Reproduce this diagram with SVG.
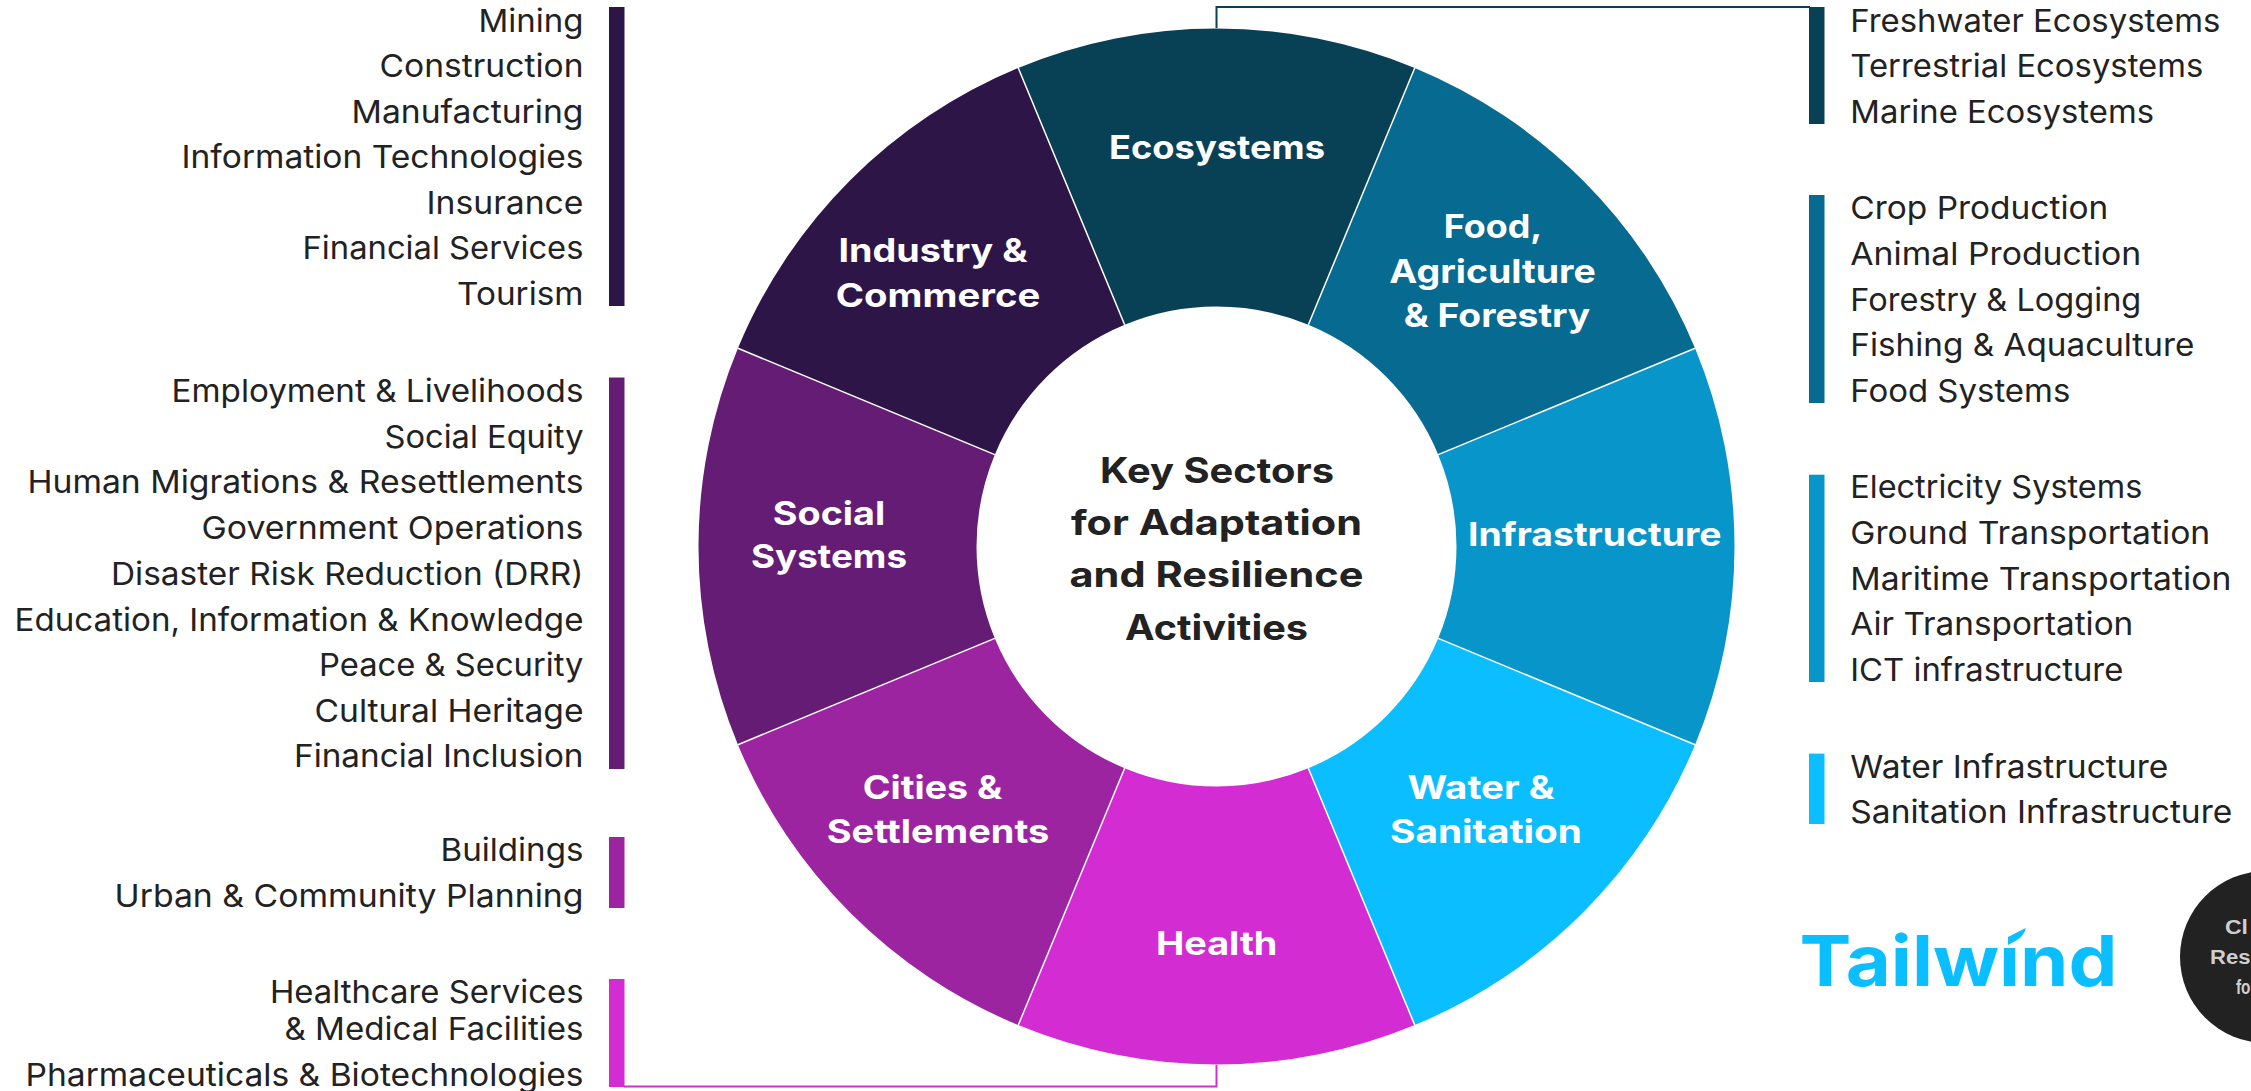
<svg xmlns="http://www.w3.org/2000/svg" width="2251" height="1091" viewBox="0 0 2251 1091">
<style>
text{font-family:"Inter","Noto Sans","Liberation Sans",sans-serif}
.item{font-size:31.5px;font-weight:400;fill:#222;}
.l{text-anchor:end}
.s{font-size:32.5px;font-weight:700;fill:#fff;text-anchor:middle}
.t{font-size:35px;font-weight:700;fill:#222;text-anchor:middle}
.c{font-family:"Liberation Sans",sans-serif;font-size:20px;font-weight:700;fill:#cfcfcf}
.div{stroke:#fff;stroke-width:1.500;fill:none}
.conn{fill:none;stroke-width:2}
</style>
<defs>
<clipPath id="logo-clip"><path d="M1790 915H2135V1005H1790ZM2000 925V948H2030V925Z" clip-rule="evenodd"/></clipPath>
</defs>
<rect width="2251" height="1091" fill="#fff"/>
<g id="connectors">
<path class="conn" stroke="#084156" d="M1216.5 28V7H1810"/>
<path class="conn" stroke="#D42CD3" d="M1216.5 1065V1086.500H624"/>
</g>
<g id="sector-ecosystems"><path fill="#084156" d="M1018.27 67.93A518 518 0 0 1 1414.73 67.93L1308.34 324.77A240 240 0 0 0 1124.66 324.77Z"/><text class="s" x="1217" y="158.600" textLength="216" lengthAdjust="spacingAndGlyphs">Ecosystems</text></g>
<g id="sector-food"><path fill="#066A91" d="M1414.73 67.93A518 518 0 0 1 1695.07 348.27L1438.23 454.66A240 240 0 0 0 1308.34 324.77Z"/><text class="s" x="1493" y="238" textLength="98.500" lengthAdjust="spacingAndGlyphs">Food,</text><text class="s" x="1492.600" y="282.500" textLength="206.500" lengthAdjust="spacingAndGlyphs">Agriculture</text><text class="s" x="1497" y="326.500" textLength="186.500" lengthAdjust="spacingAndGlyphs">&amp; Forestry</text></g>
<g id="sector-infrastructure"><path fill="#0895C9" d="M1695.07 348.27A518 518 0 0 1 1695.07 744.73L1438.23 638.34A240 240 0 0 0 1438.23 454.66Z"/><text class="s" x="1594.800" y="545.600" textLength="253.500" lengthAdjust="spacingAndGlyphs">Infrastructure</text></g>
<g id="sector-water"><path fill="#0BBEFF" d="M1695.07 744.73A518 518 0 0 1 1414.73 1025.07L1308.34 768.23A240 240 0 0 0 1438.23 638.34Z"/><text class="s" x="1481" y="799" textLength="147" lengthAdjust="spacingAndGlyphs">Water &amp;</text><text class="s" x="1486" y="843" textLength="192" lengthAdjust="spacingAndGlyphs">Sanitation</text></g>
<g id="sector-health"><path fill="#D42CD3" d="M1414.73 1025.07A518 518 0 0 1 1018.27 1025.07L1124.66 768.23A240 240 0 0 0 1308.34 768.23Z"/><text class="s" x="1216.700" y="955" textLength="121.500" lengthAdjust="spacingAndGlyphs">Health</text></g>
<g id="sector-cities"><path fill="#9C24A0" d="M1018.27 1025.07A518 518 0 0 1 737.93 744.73L994.77 638.34A240 240 0 0 0 1124.66 768.23Z"/><text class="s" x="932.500" y="799" textLength="139.500" lengthAdjust="spacingAndGlyphs">Cities &amp;</text><text class="s" x="938" y="843" textLength="222.500" lengthAdjust="spacingAndGlyphs">Settlements</text></g>
<g id="sector-social"><path fill="#651C74" d="M737.93 744.73A518 518 0 0 1 737.93 348.27L994.77 454.66A240 240 0 0 0 994.77 638.34Z"/><text class="s" x="829" y="524.600" textLength="112.500" lengthAdjust="spacingAndGlyphs">Social</text><text class="s" x="829" y="568" textLength="156" lengthAdjust="spacingAndGlyphs">Systems</text></g>
<g id="sector-industry"><path fill="#2E1548" d="M737.93 348.27A518 518 0 0 1 1018.27 67.93L1124.66 324.77A240 240 0 0 0 994.77 454.66Z"/><text class="s" x="933" y="262" textLength="189" lengthAdjust="spacingAndGlyphs">Industry &amp;</text><text class="s" x="938" y="307" textLength="204.500" lengthAdjust="spacingAndGlyphs">Commerce</text></g>
<g id="sector-dividers">
<path class="div" d="M1018.27 67.93L1124.66 324.77M1414.73 67.93L1308.34 324.77M1695.07 348.27L1438.23 454.66M1695.07 744.73L1438.23 638.34M1414.73 1025.07L1308.34 768.23M1018.27 1025.07L1124.66 768.23M737.93 744.73L994.77 638.34M737.93 348.27L994.77 454.66"/>
</g>
<g id="center-title">
<text class="t" x="1217" y="482.500" textLength="234" lengthAdjust="spacingAndGlyphs">Key Sectors</text>
<text class="t" x="1216.500" y="535" textLength="291" lengthAdjust="spacingAndGlyphs">for Adaptation</text>
<text class="t" x="1216.500" y="587" textLength="294" lengthAdjust="spacingAndGlyphs">and Resilience</text>
<text class="t" x="1216.500" y="640.400" textLength="183" lengthAdjust="spacingAndGlyphs">Activities</text>
</g>
<g id="list-industry">
<rect x="609" y="7" width="15.500" height="299" fill="#2E1548"/>
<text class="item l" x="583.500" y="31.600" textLength="105" lengthAdjust="spacingAndGlyphs">Mining</text>
<text class="item l" x="583.500" y="77" textLength="204" lengthAdjust="spacingAndGlyphs">Construction</text>
<text class="item l" x="583.500" y="122.800" textLength="232" lengthAdjust="spacingAndGlyphs">Manufacturing</text>
<text class="item l" x="583.500" y="168.400" textLength="402" lengthAdjust="spacingAndGlyphs">Information Technologies</text>
<text class="item l" x="583.500" y="213.500" textLength="157" lengthAdjust="spacingAndGlyphs">Insurance</text>
<text class="item l" x="583.500" y="259" textLength="281" lengthAdjust="spacingAndGlyphs">Financial Services</text>
<text class="item l" x="583.500" y="304.600" textLength="126.500" lengthAdjust="spacingAndGlyphs">Tourism</text>
</g>
<g id="list-social">
<rect x="609" y="377.500" width="15.500" height="391.500" fill="#651C74"/>
<text class="item l" x="583.500" y="402" textLength="412" lengthAdjust="spacingAndGlyphs">Employment &amp; Livelihoods</text>
<text class="item l" x="583.500" y="447.500" textLength="199" lengthAdjust="spacingAndGlyphs">Social Equity</text>
<text class="item l" x="583.500" y="493" textLength="556" lengthAdjust="spacingAndGlyphs">Human Migrations &amp; Resettlements</text>
<text class="item l" x="583.500" y="538.600" textLength="382" lengthAdjust="spacingAndGlyphs">Government Operations</text>
<text class="item l" x="583.500" y="585" textLength="472.500" lengthAdjust="spacingAndGlyphs">Disaster Risk Reduction (DRR)</text>
<text class="item l" x="583.500" y="630.500" textLength="569" lengthAdjust="spacingAndGlyphs">Education, Information &amp; Knowledge</text>
<text class="item l" x="583.500" y="676.300" textLength="264.500" lengthAdjust="spacingAndGlyphs">Peace &amp; Security</text>
<text class="item l" x="583.500" y="722" textLength="269" lengthAdjust="spacingAndGlyphs">Cultural Heritage</text>
<text class="item l" x="583.500" y="767.300" textLength="289.500" lengthAdjust="spacingAndGlyphs">Financial Inclusion</text>
</g>
<g id="list-cities">
<rect x="609" y="837" width="15.500" height="71" fill="#9C24A0"/>
<text class="item l" x="583.500" y="860.600" textLength="143" lengthAdjust="spacingAndGlyphs">Buildings</text>
<text class="item l" x="583.500" y="906.500" textLength="469" lengthAdjust="spacingAndGlyphs">Urban &amp; Community Planning</text>
</g>
<g id="list-health">
<rect x="609" y="979" width="15.500" height="108" fill="#D42CD3"/>
<text class="item l" x="583.500" y="1003" textLength="313.600" lengthAdjust="spacingAndGlyphs">Healthcare Services</text>
<text class="item l" x="583.500" y="1040" textLength="299" lengthAdjust="spacingAndGlyphs">&amp; Medical Facilities</text>
<text class="item l" x="583.500" y="1086" textLength="558" lengthAdjust="spacingAndGlyphs">Pharmaceuticals &amp; Biotechnologies</text>
</g>
<g id="list-ecosystems">
<rect x="1809" y="7" width="15.500" height="117" fill="#084156"/>
<text class="item" x="1850.300" y="31.600" textLength="370" lengthAdjust="spacingAndGlyphs">Freshwater Ecosystems</text>
<text class="item" x="1850.300" y="77" textLength="353" lengthAdjust="spacingAndGlyphs">Terrestrial Ecosystems</text>
<text class="item" x="1850.300" y="122.800" textLength="303.700" lengthAdjust="spacingAndGlyphs">Marine Ecosystems</text>
</g>
<g id="list-food">
<rect x="1809" y="195" width="15.500" height="208" fill="#066A91"/>
<text class="item" x="1850.300" y="219.300" textLength="258" lengthAdjust="spacingAndGlyphs">Crop Production</text>
<text class="item" x="1850.300" y="264.500" textLength="291" lengthAdjust="spacingAndGlyphs">Animal Production</text>
<text class="item" x="1850.300" y="310.500" textLength="291" lengthAdjust="spacingAndGlyphs">Forestry &amp; Logging</text>
<text class="item" x="1850.300" y="356" textLength="344" lengthAdjust="spacingAndGlyphs">Fishing &amp; Aquaculture</text>
<text class="item" x="1850.300" y="402" textLength="220" lengthAdjust="spacingAndGlyphs">Food Systems</text>
</g>
<g id="list-infrastructure">
<rect x="1809" y="474.700" width="15.500" height="207.300" fill="#0895C9"/>
<text class="item" x="1850.300" y="498" textLength="292" lengthAdjust="spacingAndGlyphs">Electricity Systems</text>
<text class="item" x="1850.300" y="543.500" textLength="360" lengthAdjust="spacingAndGlyphs">Ground Transportation</text>
<text class="item" x="1850.300" y="589.700" textLength="381" lengthAdjust="spacingAndGlyphs">Maritime Transportation</text>
<text class="item" x="1850.300" y="635" textLength="283" lengthAdjust="spacingAndGlyphs">Air Transportation</text>
<text class="item" x="1850.300" y="681.400" textLength="273" lengthAdjust="spacingAndGlyphs">ICT infrastructure</text>
</g>
<g id="list-water">
<rect x="1809" y="753.600" width="15.500" height="70.400" fill="#0BBEFF"/>
<text class="item" x="1850.300" y="777.500" textLength="318" lengthAdjust="spacingAndGlyphs">Water Infrastructure</text>
<text class="item" x="1850.300" y="822.600" textLength="382" lengthAdjust="spacingAndGlyphs">Sanitation Infrastructure</text>
</g>
<g id="logo-tailwind">
<text x="1799.500" y="985.500" font-size="70" font-weight="700" fill="#0BBEFF" textLength="318" lengthAdjust="spacingAndGlyphs" clip-path="url(#logo-clip)">Tailwind</text>
<path fill="#0BBEFF" d="M2008 937L2025.700 928C2024 938 2015 941 2008 945Z"/>
</g>
<g id="badge">
<circle cx="2266" cy="957" r="86" fill="#222"/>
<text class="c" x="2225" y="934" textLength="23" lengthAdjust="spacingAndGlyphs">Cl</text>
<text class="c" x="2210" y="964" textLength="40.500" lengthAdjust="spacingAndGlyphs">Res</text>
<text class="c" x="2236" y="994" textLength="14.500" lengthAdjust="spacingAndGlyphs">fo</text>
</g>
</svg>
